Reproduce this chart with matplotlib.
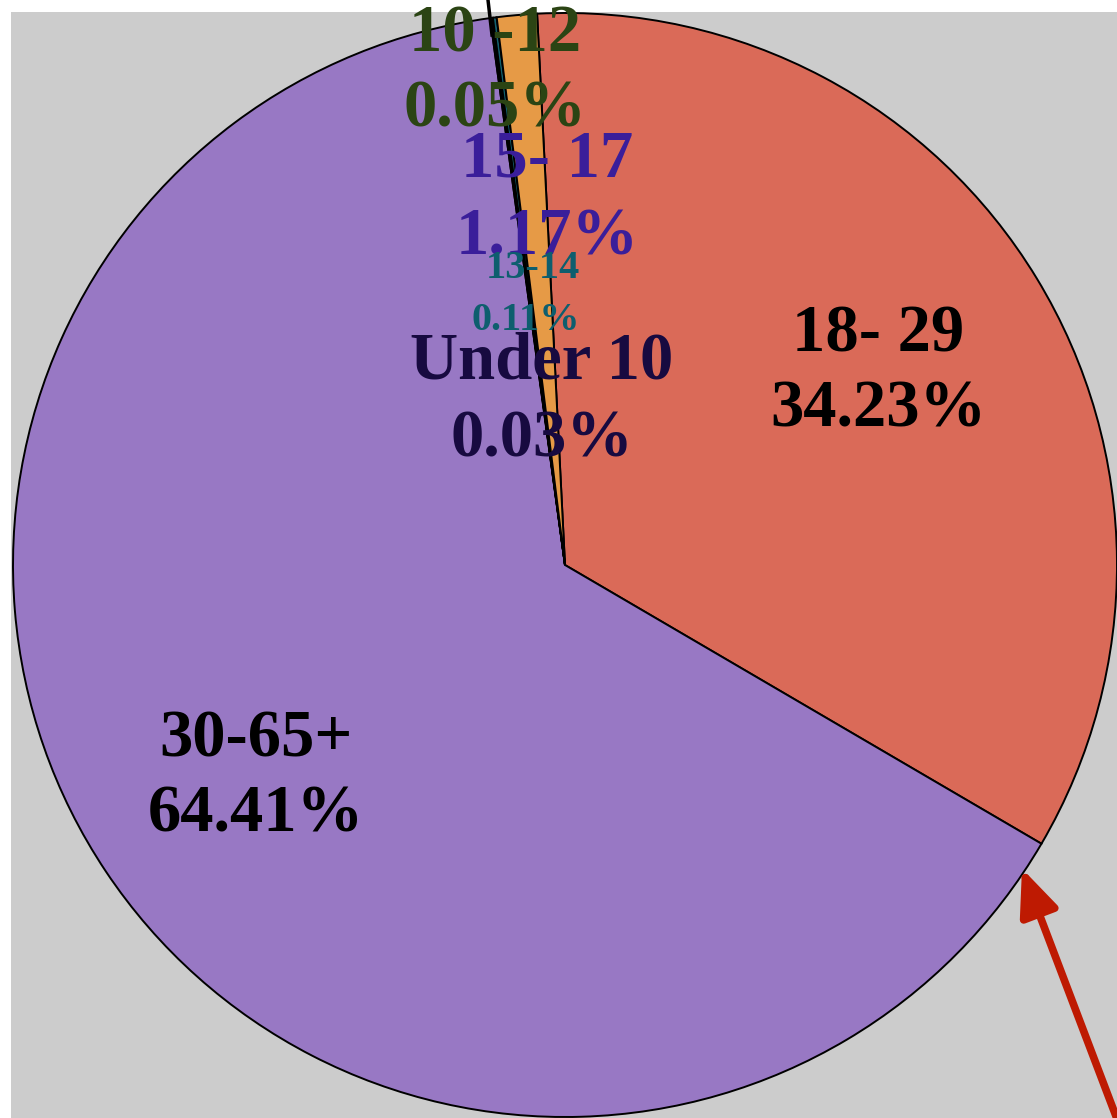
import matplotlib
matplotlib.use("Agg")
from matplotlib import pyplot as plt
from matplotlib.patches import Rectangle

# slices in drawing order (clockwise from just left of top)
groups = ["18- 29", "30-65+", "Under 10", "10 -12", "13-14", "15- 17"]
shares = [34.23, 64.41, 0.03, 0.05, 0.11, 1.17]
colors = ["#DA6A58", "#9878C4", "#1A1050", "#2E4A14", "#14606E", "#E69A46"]

W, H = 1117, 1118
fig = plt.figure(figsize=(W / 100, H / 100), dpi=100)
ax = fig.add_axes([0, 0, 1, 1])

def py(y):
    return H - y

ax.add_patch(Rectangle((11, 0), W - 11, H - 12, facecolor="#CCCCCC", edgecolor="none", zorder=0))

ax.pie(shares, colors=colors, startangle=92.9, counterclock=False,
       center=(565, py(565)), radius=552, frame=True,
       wedgeprops=dict(edgecolor="black", linewidth=1.4))
ax.set_xlim(0, W)
ax.set_ylim(0, H)
ax.set_aspect("equal")
ax.axis("off")

serif = ["Liberation Serif", "DejaVu Serif"]
labels = [
    ("18- 29", "34.23%", 878, 335, 410, "black", 48),
    ("30-65+", "64.41%", 256, 740, 815, "black", 48),
    ("10 -12", "0.05%", 495, 35, 110, "#2B4414", 48),
    ("15- 17", "1.17%", 547, 160, 238, "#3A1E9A", 48),
    ("Under 10", "0.03%", 542, 362, 440, "#170A40", 48),
]
for top, bottom, x, y1, y2, c, fs in labels:
    ax.text(x, py(y1), top, ha="center", va="center", fontsize=fs, fontweight="bold", family=serif, color=c)
    ax.text(x, py(y2), bottom, ha="center", va="center", fontsize=fs, fontweight="bold", family=serif, color=c)
ax.text(533, py(268), "13-14", ha="center", va="center", fontsize=29, fontweight="bold", family=serif, color="#0E5E6E")
ax.text(526, py(320), "0.11%", ha="center", va="center", fontsize=29, fontweight="bold", family=serif, color="#0E5E6E")

# leader line at top
ax.plot([488, 492], [py(0), py(35)], color="black", linewidth=2.5)

# red arrow
ax.annotate("", xy=(1021, py(866)), xytext=(1125, py(1140)),
            arrowprops=dict(arrowstyle="-|>,head_length=2.8,head_width=1.2", color="#BE1A02", linewidth=5.5))

fig.savefig("out.png", dpi=100)
